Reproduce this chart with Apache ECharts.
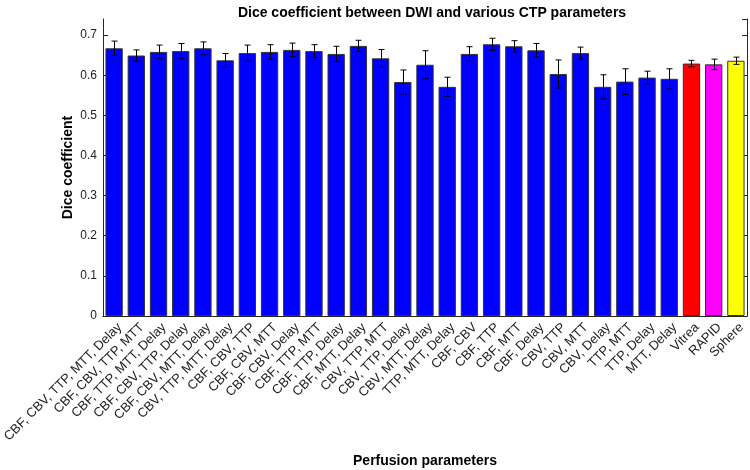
<!DOCTYPE html>
<html>
<head>
<meta charset="utf-8">
<script src="https://cdn.jsdelivr.net/npm/echarts@6/dist/echarts.min.js"></script>
<style>html,body{margin:0;padding:0;background:#fff}#c{width:750px;height:470px}</style>
</head>
<body>
<div id="c"></div>
<script>
var categories = [
  'CBF, CBV, TTP, MTT, Delay', 'CBF, CBV, TTP, MTT', 'CBF, TTP, MTT, Delay', 'CBF, CBV, TTP, Delay',
  'CBF, CBV, MTT, Delay', 'CBV, TTP, MTT, Delay', 'CBF, CBV, TTP', 'CBF, CBV, MTT', 'CBF, CBV, Delay',
  'CBF, TTP, MTT', 'CBF, TTP, Delay', 'CBF, MTT, Delay', 'CBV, TTP, MTT', 'CBV, TTP, Delay',
  'CBV, MTT, Delay', 'TTP, MTT, Delay', 'CBF, CBV', 'CBF, TTP', 'CBF, MTT', 'CBF, Delay',
  'CBV, TTP', 'CBV, MTT', 'CBV, Delay', 'TTP, MTT', 'TTP, Delay', 'MTT, Delay', 'Vitrea', 'RAPID', 'Sphere'
];
var diceMean = [
  0.667, 0.649, 0.658, 0.660, 0.667, 0.637, 0.655, 0.658, 0.663, 0.660, 0.653, 0.673, 0.642, 0.583,
  0.626, 0.571, 0.653, 0.677, 0.672, 0.662, 0.603, 0.655, 0.571, 0.584, 0.594, 0.591, 0.629, 0.627, 0.636
];
var diceErr = [
  0.018, 0.014, 0.017, 0.019, 0.016, 0.017, 0.020, 0.018, 0.017, 0.016, 0.019, 0.014, 0.022, 0.030,
  0.035, 0.024, 0.018, 0.015, 0.014, 0.017, 0.035, 0.015, 0.030, 0.032, 0.016, 0.025, 0.008, 0.013, 0.009
];
var barColors = [
  '#0000ff','#0000ff','#0000ff','#0000ff','#0000ff','#0000ff','#0000ff','#0000ff','#0000ff','#0000ff',
  '#0000ff','#0000ff','#0000ff','#0000ff','#0000ff','#0000ff','#0000ff','#0000ff','#0000ff','#0000ff',
  '#0000ff','#0000ff','#0000ff','#0000ff','#0000ff','#0000ff','#ff0000','#ff00ff','#ffff00'
];
var yTicks = [0, 0.1, 0.2, 0.3, 0.4, 0.5, 0.6, 0.7];

var FONT = 'Liberation Sans, Arial, Helvetica, sans-serif';
var AX = '#262626';

var barData = diceMean.map(function (v, i) {
  return { value: v, itemStyle: { color: barColors[i] } };
});
var errData = diceMean.map(function (v, i) {
  return [i, v - diceErr[i], v + diceErr[i]];
});

var chart = echarts.init(document.getElementById('c'), null, { renderer: 'canvas' });
chart.setOption({
  animation: false,
  backgroundColor: '#fff',
  title: {
    text: 'Dice coefficient between DWI and various CTP parameters',
    left: 427, top: 1, textAlign: 'center',
    textStyle: { fontFamily: FONT, fontSize: 14, fontWeight: 'bold', color: '#000' }
  },
  grid: { left: 103, right: 3, top: 19, bottom: 154, containLabel: false, outerBoundsMode: 'none' },
  xAxis: [{
    type: 'category', data: categories, position: 'bottom',
    name: 'Perfusion parameters', nameLocation: 'middle', nameGap: 138, nameMoveOverlap: false,
    nameTextStyle: { fontFamily: FONT, fontSize: 14, fontWeight: 'bold', color: '#000' },
    axisLine: { lineStyle: { color: AX, width: 1 } },
    axisTick: { inside: true, alignWithLabel: true, length: 5, lineStyle: { color: AX } },
    axisLabel: { rotate: 45, interval: 0, fontFamily: FONT, fontSize: 13, color: '#222', margin: 15, padding: [0, -8, 0, 0] },
    splitLine: { show: false }
  }, {
    type: 'category', data: categories, position: 'top',
    axisLine: { lineStyle: { color: AX, width: 1 } },
    axisTick: { inside: true, alignWithLabel: true, length: 5, lineStyle: { color: AX } },
    axisLabel: { show: false }, splitLine: { show: false }
  }],
  yAxis: [{
    type: 'value', min: 0, max: 0.74, interval: 0.1, position: 'left',
    name: 'Dice coefficient', nameLocation: 'middle', nameGap: 28, nameMoveOverlap: false,
    nameTextStyle: { fontFamily: FONT, fontSize: 14, fontWeight: 'bold', color: '#000' },
    axisLine: { show: true, lineStyle: { color: AX, width: 1 } },
    axisTick: { show: true, inside: true, length: 5, lineStyle: { color: AX } },
    axisLabel: {
      fontFamily: FONT, fontSize: 12, color: '#222', margin: 6, showMaxLabel: false,
      formatter: function (v) {
        for (var k = 0; k < yTicks.length; k++) { if (Math.abs(v - yTicks[k]) < 1e-6) return String(yTicks[k]); }
        return '';
      }
    },
    splitLine: { show: false }
  }, {
    type: 'value', min: 0, max: 0.74, interval: 0.1, position: 'right',
    axisLine: { show: true, lineStyle: { color: AX, width: 1 } },
    axisTick: { show: true, inside: true, length: 5, lineStyle: { color: AX } },
    axisLabel: { show: false }, splitLine: { show: false }
  }],
  series: [{
    type: 'bar', xAxisIndex: 0, yAxisIndex: 0, data: barData, barWidth: '78%',
    itemStyle: { borderColor: '#333', borderWidth: 1 }, z: 2
  }, {
    type: 'custom', xAxisIndex: 0, yAxisIndex: 0, data: errData, z: 5,
    renderItem: function (params, api) {
      var x = api.value(0);
      var lo = api.coord([x, api.value(1)]);
      var hi = api.coord([x, api.value(2)]);
      var cx = Math.round(lo[0]) + 0.5;
      var hw = 3;
      var st = { stroke: '#000', lineWidth: 1 };
      return {
        type: 'group',
        children: [
          { type: 'line', shape: { x1: cx, y1: lo[1], x2: cx, y2: hi[1] }, style: st },
          { type: 'line', shape: { x1: cx - hw, y1: lo[1], x2: cx + hw, y2: lo[1] }, style: st },
          { type: 'line', shape: { x1: cx - hw, y1: hi[1], x2: cx + hw, y2: hi[1] }, style: st }
        ]
      };
    }
  }]
});
</script>
</body>
</html>
